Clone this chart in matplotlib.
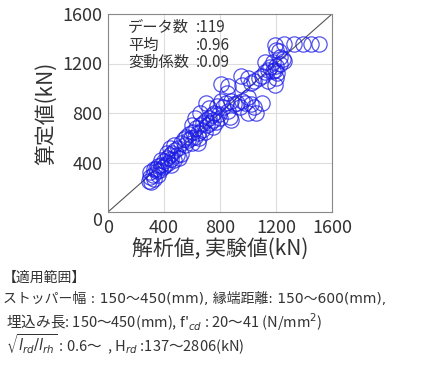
import matplotlib
matplotlib.use("Agg")
import matplotlib.pyplot as plt

plt.rcParams['font.family'] = ['Noto Sans CJK JP', 'DejaVu Sans']
plt.rcParams['mathtext.fontset'] = 'dejavusans'

# 解析値・実験値 (kN) vs 算定値 (kN), 119 points
exp_val = [290, 300, 310, 320, 330, 300, 340, 350, 360, 370, 380, 390, 400, 410, 420,
           430, 440, 450, 460, 470, 480, 490, 500, 360, 420, 380, 450, 510, 470, 520,
           520, 540, 550, 560, 570, 580, 590, 600, 610, 620, 630, 640, 650, 660, 670,
           680, 690, 700, 710, 720, 730, 740, 750, 760, 770, 780, 790, 800, 600, 660,
           720, 700, 620, 640, 880, 750,
           810, 820, 840, 850, 860, 880, 900, 920, 940, 960, 980, 1000, 1020, 1040, 1060,
           810, 857, 960, 952, 1000, 1020, 1040, 1100, 1080, 1100, 1120, 1140, 1160, 1180,
           1200, 1180, 1210, 1230, 1250, 1000, 1140, 1200, 1190, 1230, 1260,
           1190, 1260, 1330, 1390, 1450, 1510, 1200, 1220,
           330, 440, 870, 1120, 1190]
calc_val = [250, 280, 240, 300, 270, 320, 350, 330, 370, 340, 380, 360, 410, 380, 440,
            400, 460, 430, 480, 420, 500, 460, 520, 300, 480, 420, 380, 440, 540, 470,
            560, 590, 540, 610, 580, 630, 600, 560, 650, 610, 680, 640, 600, 700, 660,
            720, 650, 740, 700, 760, 720, 780, 740, 800, 730, 860, 790, 760, 700, 800,
            840, 880, 760, 560, 740, 690,
            900, 850, 880, 960, 820, 900, 870, 880, 850, 900, 880, 930, 870, 850, 800,
            1035, 1021, 1030, 1100, 1080, 1040, 1060, 880, 1080, 1100, 1130, 1150, 1170, 1140,
            1180, 1210, 1120, 1200, 1240, 800, 1060, 1080, 1030, 1250, 1220,
            1350, 1355, 1360, 1360, 1360, 1355, 1310, 1300,
            350, 520, 770, 1210, 1150]

ticks = [0, 400, 800, 1200, 1600]
stats_names = ['データ数', '平均', '変動係数']
stats_vals = [':119', ':0.96', ':0.09']

range_lines = [
    '【適用範囲】',
    'ストッパー幅 : 150～450(mm), 縁端距離: 150～600(mm),',
    " 埋込み長: 150～450(mm), f'$_{cd}$ : 20～41 (N/mm$^2$)",
    r' $\sqrt{l_{rd}/l_{rh}}$ : 0.6～  , H$_{rd}$ :137～2806(kN)',
]

fig = plt.figure(figsize=(4.23, 3.80), dpi=100)
ax = fig.add_axes([108/423, 168/380, 224/423, 198/380])

ax.plot([0, 1600], [0, 1600], color='#555555', lw=0.8, zorder=1)
ax.plot(exp_val, calc_val, 'o', ms=11, mfc='none', mec='#1a1ae6', mew=0.9,
        alpha=0.75, zorder=2)

ax.set_xlim(0, 1600)
ax.set_ylim(0, 1600)
ax.set_xticks(ticks)
ax.set_yticks(ticks)
ax.grid(True, color='#dddddd', lw=0.8)
ax.set_axisbelow(True)
ax.tick_params(length=0, labelsize=13, colors='#333333')
ax.tick_params(axis='x', pad=5)
ax.tick_params(axis='y', pad=4)
# y の 0 は少し下げる (参考図どおり)
ax.get_yticklabels()[0].set_verticalalignment('top')
ax.get_yticklabels()[0].set_y(-20)
for s in ax.spines.values():
    s.set_color('#888888')
    s.set_linewidth(0.8)

ax.set_xlabel('解析値, 実験値(kN)', fontsize=15, labelpad=1, color='#333333')
ax.set_ylabel('算定値(kN)', fontsize=15, labelpad=4, color='#333333')

ys = [1487, 1349, 1212]
for name, val, yy in zip(stats_names, stats_vals, ys):
    ax.text(143, yy, name, fontsize=11, va='center', ha='left', color='#333333')
    ax.text(630, yy, val, fontsize=11, va='center', ha='left', color='#333333')

line_y = [278, 299, 322, 344]
for i, (txt, yy) in enumerate(zip(range_lines, line_y)):
    if i < 2:
        fam, fs = ['DejaVu Sans', 'Noto Sans CJK JP'], 10
    else:
        # mathtext 入りの行はフォールバックが効かないので CJK フォントを先に
        fam, fs = ['Noto Sans CJK JP', 'DejaVu Sans'], 10.5
    fig.text(3/423, 1 - yy/380, txt, fontsize=fs, va='center', ha='left',
             color='#333333', family=fam)

fig.savefig('out.png', dpi=100)
